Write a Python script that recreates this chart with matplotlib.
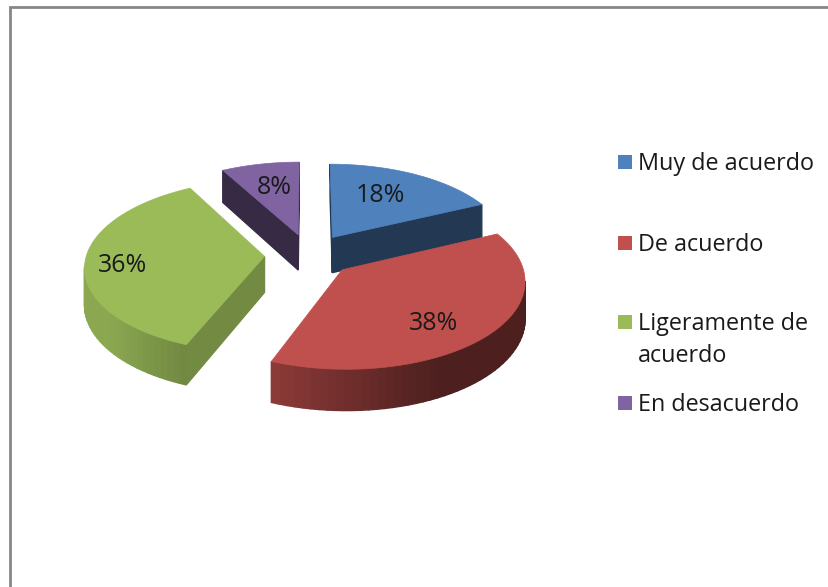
import numpy as np
import matplotlib
matplotlib.use('Agg')
import matplotlib.pyplot as plt
from matplotlib.patches import Rectangle

categories = ['Muy de acuerdo', 'De acuerdo', 'Ligeramente de\nacuerdo', 'En desacuerdo']
values = [18, 38, 36, 8]
colors = ['#4F81BD', '#C0504D', '#9BBB59', '#8064A2']
cut_shade = [0.44, 0.44, 0.74, 0.42]

# pie geometry in pixels
cx, cy = 309, 255
rx, ry = 178, 85
depth = 36
persp = 0.11
explode = 0.25

plt.rcParams['font.family'] = ['Open Sans', 'DejaVu Sans']

fig = plt.figure(figsize=(8.29, 5.87), dpi=100)
ax = fig.add_axes([0, 0, 1, 1])
ax.set_xlim(0, 829)
ax.set_ylim(587, 0)
ax.axis('off')

# chart frame
ax.plot([10, 10, 829], [587, 7, 7], color='#868686', lw=2, solid_joinstyle='miter')


def project(u, v, z=0):
    p = 1 / (1 - persp * v)
    return cx + rx * u * p, cy + ry * v * p + z * depth * p


def shade(col, f):
    return tuple(min(1, c * f) for c in matplotlib.colors.to_rgb(col))


def area(xs, ys):
    return 0.5 * np.sum(np.array(xs) * np.roll(ys, -1) - np.roll(xs, -1) * np.array(ys))


def wall(u0, v0, u1, v1, col):
    xa, ya = project(u0, v0)
    xb, yb = project(u1, v1)
    xc, yc = project(u1, v1, 1)
    xd, yd = project(u0, v0, 1)
    xs = [xa, xb, xc, xd]
    ys = [ya, yb, yc, yd]
    # only the faces turned to the viewer
    if area(xs, ys) < 0:
        ax.fill(xs, ys, color=col, lw=1.0, zorder=draw_z)


edges = np.cumsum([0] + values) / sum(values) * 2 * np.pi
order = [3, 0, 2, 1]
for draw_z, i in enumerate(order, start=2):
    a0, a1 = edges[i], edges[i + 1]
    mid = (a0 + a1) / 2
    ou, ov = explode * np.sin(mid), -explode * np.cos(mid)
    t = np.linspace(a0, a1, 60)
    us = ou + np.sin(t)
    vs = ov - np.cos(t)

    cut = shade(colors[i], cut_shade[i])
    wall(ou, ov, us[0], vs[0], cut)
    wall(us[-1], vs[-1], ou, ov, cut)
    for j in range(len(t) - 1):
        s = np.sin((t[j] + t[j + 1]) / 2)
        wall(us[j], vs[j], us[j + 1], vs[j + 1], shade(colors[i], np.clip(0.58 - 0.4 * s, 0.4, 0.9)))

    tx, ty = project(np.r_[ou, us], np.r_[ov, vs])
    ax.fill(tx, ty, color=colors[i], lw=0.5, zorder=draw_z + 0.5)

# slice percentages
label_xy = [(380, 195), (434, 323), (123, 266), (274, 188)]
for v, (lx, ly) in zip(values, label_xy):
    ax.text(lx, ly, '%d%%' % v, ha='center', va='center', fontsize=18, color='#1a1a1a', zorder=10)

# legend
legend_y = [162, 243, 322, 403]
for name, col, ly in zip(categories, colors, legend_y):
    ax.add_patch(Rectangle((618, ly - 7), 14, 14, color=col, lw=0))
    ax.text(638, ly - 10, name, ha='left', va='top', fontsize=16.8, color='#1a1a1a', linespacing=1.42)

fig.savefig('out.png', dpi=100)
